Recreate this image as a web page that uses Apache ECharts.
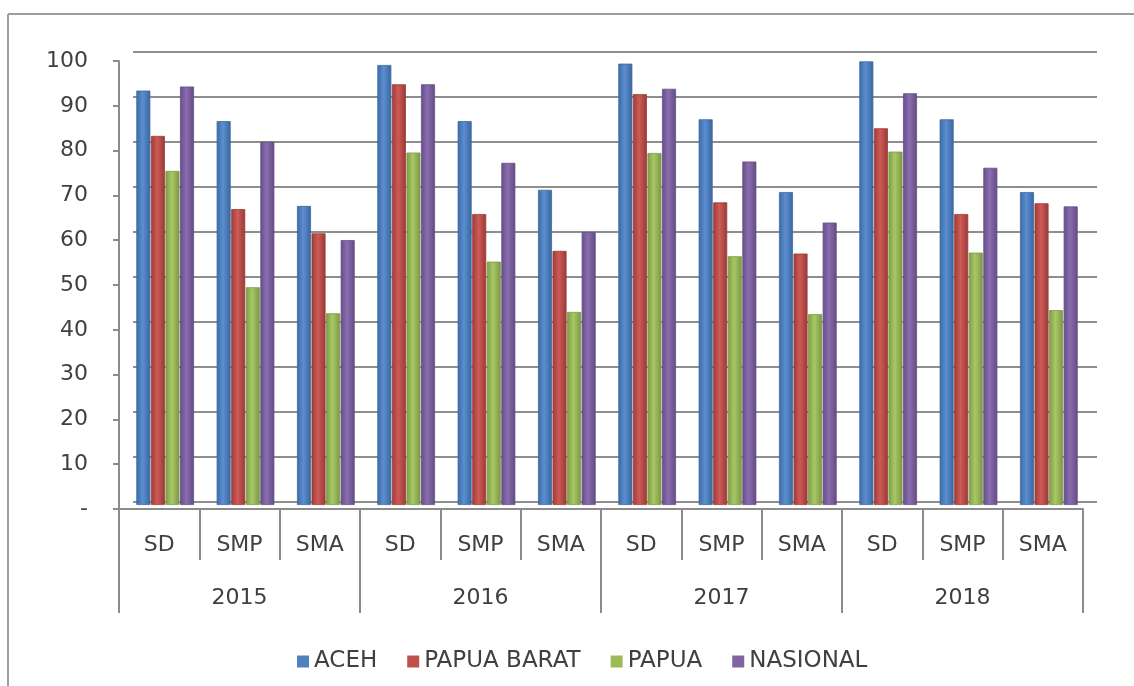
<!DOCTYPE html>
<html>
<head>
<meta charset="utf-8">
<script src="https://cdn.jsdelivr.net/npm/echarts@6/dist/echarts.min.js"></script>
<style>
html,body{margin:0;padding:0;background:#fff;}
#chart{width:1134px;height:686px;}
</style>
</head>
<body>
<div id="chart"></div>
<script>
const levels = ['SD','SMP','SMA','SD','SMP','SMA','SD','SMP','SMA','SD','SMP','SMA'];
const years = ['2015','2016','2017','2018'];
const seriesNames = ['ACEH','PAPUA BARAT','PAPUA','NASIONAL'];
const aceh = [92.3, 85.5, 66.6, 98.0, 85.5, 70.2, 98.3, 85.9, 69.7, 98.8, 85.9, 69.7];
const papuaBarat = [82.2, 65.9, 60.5, 93.7, 64.8, 56.6, 91.5, 67.4, 56.0, 83.9, 64.8, 67.2];
const papua = [74.4, 48.5, 42.7, 78.5, 54.2, 43.0, 78.4, 55.4, 42.5, 78.7, 56.2, 43.4];
const nasional = [93.2, 80.9, 59.0, 93.7, 76.2, 60.8, 92.7, 76.5, 62.9, 91.7, 75.1, 66.5];

const FONT = 'DejaVu Sans';
const textColor = '#404040';
const lineColor = '#8c8c8c';
const flat = ['#4f81bd','#c0504d','#9bbb59','#8064a2'];
const palette = [
  ['#3b6aa3','#5b8ed1','#3a659c'],
  ['#9c3b38','#cf5a56','#973a37'],
  ['#7e9a45','#a8c866','#7b9643'],
  ['#654e86','#8a6db0','#624b82']
];
function grad(c){
  return new echarts.graphic.LinearGradient(0,0,1,0,[
    {offset:0,color:c[0]},{offset:0.45,color:c[1]},{offset:1,color:c[2]}
  ]);
}
const allData = [aceh, papuaBarat, papua, nasional];

const chart = echarts.init(document.getElementById('chart'));
chart.setOption({
  backgroundColor:'#ffffff',
  animation:false,
  textStyle:{fontFamily:FONT},
  graphic:[
    {type:'line',shape:{x1:8,y1:14,x2:8,y2:686},style:{stroke:'#9d9d9d',lineWidth:2},silent:true},
    {type:'line',shape:{x1:8,y1:14,x2:1134,y2:14},style:{stroke:'#9d9d9d',lineWidth:2},silent:true}
  ],
  legend:{
    data:seriesNames.map(function(n,i){
      return {name:n,itemStyle:{color:flat[i],borderWidth:0}};
    }),
    top:645,
    left:292,
    icon:'rect',
    itemWidth:12,
    itemHeight:12,
    itemGap:30,
    textStyle:{fontFamily:FONT,fontSize:23,color:textColor}
  },
  grid:[
    {left:119,right:51,top:61,bottom:177,containLabel:false},
    {left:133,right:37,top:52,bottom:184,containLabel:false},
    {left:125,right:45,top:56,bottom:181,containLabel:false}
  ],
  xAxis:[
    {
      type:'category', gridIndex:0, data:levels, position:'bottom',
      boundaryGap:true,
      axisLine:{show:true,lineStyle:{color:lineColor,width:2}},
      axisTick:{show:true,interval:0,length:51,lineStyle:{color:lineColor,width:2}},
      axisLabel:{interval:0,margin:25,fontFamily:FONT,fontSize:22,color:textColor}
    },
    {
      type:'category', gridIndex:0, data:years, position:'bottom',
      boundaryGap:true,
      axisLine:{show:false},
      axisTick:{show:true,interval:0,length:104,lineStyle:{color:lineColor,width:2}},
      axisLabel:{interval:0,margin:78,fontFamily:FONT,fontSize:22,color:textColor}
    },
    {
      type:'value', gridIndex:1, min:0, max:1, show:false
    },
    {
      type:'category', gridIndex:2, data:levels, show:false, boundaryGap:true
    }
  ],
  yAxis:[
    {
      type:'value', gridIndex:0, min:0, max:100, interval:10,
      axisLine:{show:true,lineStyle:{color:lineColor,width:2}},
      axisTick:{show:true,length:6,lineStyle:{color:lineColor,width:2}},
      splitLine:{show:false},
      axisLabel:{margin:31,fontFamily:FONT,fontSize:22,color:textColor,
        formatter:function(v){return v===0?'-':String(v);}}
    },
    {
      type:'value', gridIndex:1, min:0, max:100, interval:10,
      axisLine:{show:false}, axisTick:{show:false}, axisLabel:{show:false},
      splitLine:{show:true,lineStyle:{color:'#8e8e8e',width:2}}
    },
    {
      type:'value', gridIndex:2, min:0, max:100, interval:10, show:false,
      splitLine:{show:false}
    }
  ],
  series: seriesNames.map(function(name,i){
    return {
      name:name, type:'bar', xAxisIndex:3, yAxisIndex:2,
      data:allData[i],
      barWidth:14, barGap:'4%',
      itemStyle:{color:grad(palette[i]),borderColor:palette[i][0],borderWidth:0.8},
      emphasis:{disabled:true}
    };
  }),
  color:flat
});
</script>
</body>
</html>
